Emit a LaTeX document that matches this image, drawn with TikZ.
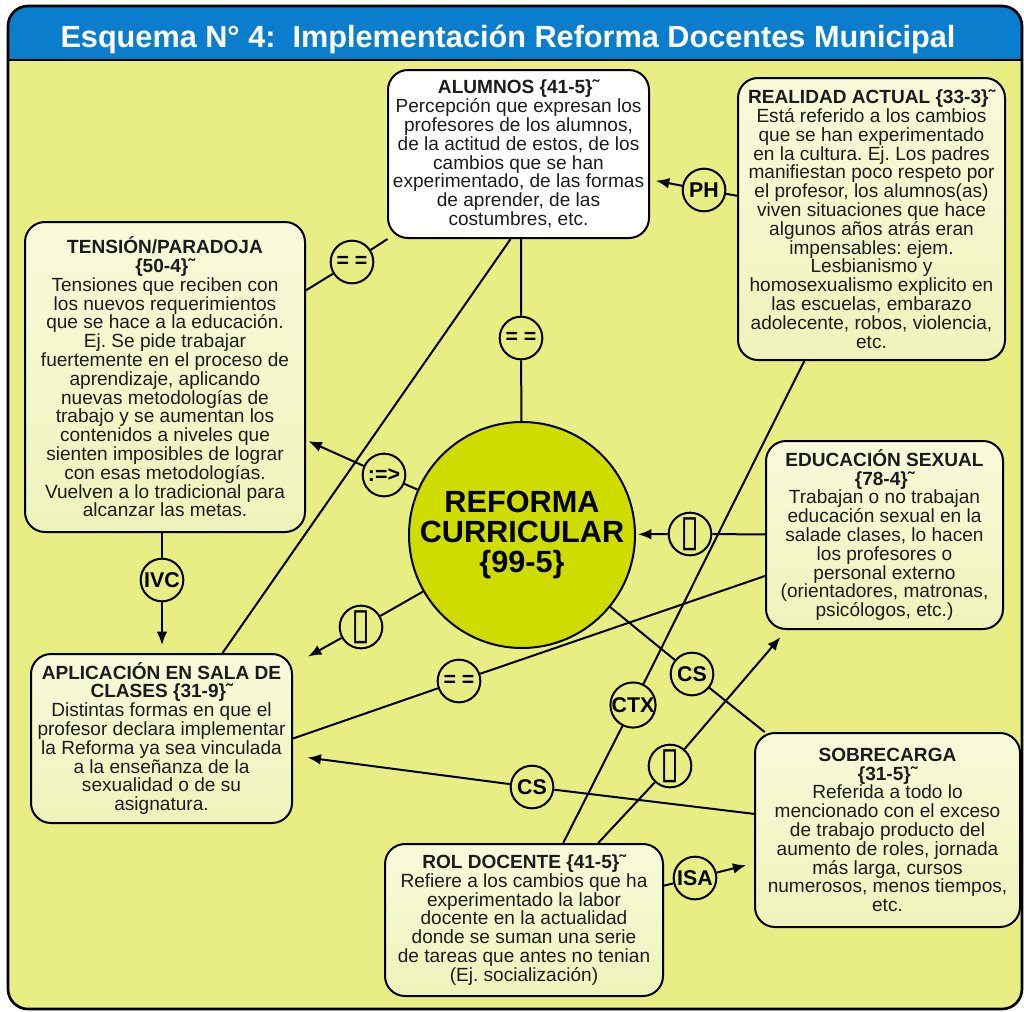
\documentclass[tikz,border=0pt]{standalone}
\usepackage{fontspec}
\setmainfont{Liberation Sans}
\newfontfamily\dejavu{DejaVu Sans}
\usetikzlibrary{arrows.meta,calc,backgrounds}
\definecolor{bglime}{HTML}{E8EE84}
\definecolor{hdrblue}{HTML}{0A7DCD}
\definecolor{boxtop}{HTML}{F9FADB}
\definecolor{boxbot}{HTML}{EFF3BA}
\definecolor{bigfill}{HTML}{CFDC00}
\definecolor{txt}{HTML}{1C1C1C}
\newcommand{\rectglyph}{{\dejavu\mdseries\fontsize{26}{26}\selectfont\scalebox{1}[1.25]{▯}}}
\frenchspacing
\begin{document}
\begin{tikzpicture}[x=0.75pt,y=-0.75pt,
  box/.style={draw, line width=1.5pt, rounded corners=15pt, top color=boxtop, bottom color=boxbot,
    inner sep=0pt, align=center, text=txt, font=\fontsize{14.3}{14.1}\selectfont},
  lbl/.style={circle, draw, line width=1.5pt, fill=bglime, minimum size=32pt, inner sep=0pt,
    font=\bfseries\fontsize{16}{16}\selectfont},
  conn/.style={line width=1.5pt},
  arr/.style={conn, -{Latex[length=10pt,width=8pt]}}]
\useasboundingbox (0,0) rectangle (1024,1011);
\begin{scope}[on background layer]
  \fill[bglime, rounded corners=15pt] (8,6) rectangle (1022,1009);
  \begin{scope}
    \clip[rounded corners=15pt] (8,6) rectangle (1022,1009);
    \fill[hdrblue] (8,6) rectangle (1022,60);
  \end{scope}
  \draw[line width=1.5pt] (8,60) -- (1022,60);
  \draw[line width=2pt, rounded corners=15pt] (8,6) rectangle (1022,1009);
\end{scope}

\node[anchor=base, text=white, font=\bfseries\fontsize{23}{23}\selectfont] (title) at (508,47)
  {Esquema N° 4:\ \ Implementación Reforma Docentes Municipal};

% boxes
\node[box, fill=white, top color=white, bottom color=white, minimum width=195.75pt, minimum height=126pt] (alumnos) at (518.5,154)
  {{\bfseries ALUMNOS \{41-5\}˜}\\Percepción que expresan los\\profesores de los alumnos,\\de la actitud de estos, de los\\cambios que se han\\experimentado, de las formas\\de aprender, de las\\costumbres, etc.};
\node[box, minimum width=200.25pt, minimum height=211.5pt] (realidad) at (871.5,219)
  {{\bfseries REALIDAD ACTUAL \{33-3\}˜}\\Está referido a los cambios\\que se han experimentado\\en la cultura. Ej. Los padres\\manifiestan poco respeto por\\el profesor, los alumnos(as)\\viven situaciones que hace\\algunos años atrás eran\\impensables: ejem.\\Lesbianismo y\\homosexualismo explicito en\\las escuelas, embarazo\\adolecente, robos, violencia,\\etc.};
\node[box, minimum width=210pt, minimum height=232.5pt] (tension) at (165,377)
  {{\bfseries TENSIÓN/PARADOJA}\\{\bfseries \{50-4\}˜}\\Tensiones que reciben con\\los nuevos requerimientos\\que se hace a la educación.\\Ej. Se pide trabajar\\fuertemente en el proceso de\\aprendizaje, aplicando\\nuevas metodologías de\\trabajo y se aumentan los\\contenidos a niveles que\\sienten imposibles de lograr\\con esas metodologías.\\Vuelven a lo tradicional para\\alcanzar las metas.};
\node[box, minimum width=177.75pt, minimum height=141pt] (edusex) at (884.5,535)
  {{\bfseries EDUCACIÓN SEXUAL}\\{\bfseries \{78-4\}˜}\\Trabajan o no trabajan\\educación sexual en la\\salade clases, lo hacen\\los profesores o\\personal externo\\(orientadores, matronas,\\psicólogos, etc.)};
\node[box, minimum width=195.75pt, minimum height=126.75pt] (aplic) at (161.5,738.5)
  {{\bfseries APLICACIÓN EN SALA DE}\\{\bfseries CLASES \{31-9\}˜}\\Distintas formas en que el\\profesor declara implementar\\la Reforma ya sea vinculada\\a la enseñanza de la\\sexualidad o de su\\asignatura.};
\node[box, minimum width=198.75pt, minimum height=145.5pt] (sobre) at (887.5,830)
  {{\bfseries SOBRECARGA}\\{\bfseries \{31-5\}˜}\\Referida a todo lo\\mencionado con el exceso\\de trabajo producto del\\aumento de roles, jornada\\más larga, cursos\\numerosos, menos tiempos,\\etc.};
\node[box, minimum width=208.5pt, minimum height=114pt] (rol) at (524,920)
  {{\bfseries ROL DOCENTE \{41-5\}˜}\\Refiere a los cambios que ha\\experimentado la labor\\docente en la actualidad\\donde se suman una serie\\de tareas que antes no tenian\\(Ej. socialización)};

\node[circle, draw, line width=1.5pt, fill=bigfill, minimum size=169.5pt, inner sep=0pt, align=center,
  font=\bfseries\fontsize{23}{22.5}\selectfont] (big) at (522,535) {REFORMA\\CURRICULAR\\\{99-5\}};

% connector labels
\node[lbl] (eq1) at (352,262) {= =};
\node[lbl] (eq2) at (521,338) {= =};
\node[lbl] (ph) at (704,190) {PH};
\node[lbl] (imp) at (384,475) {:=>};
\node[lbl] (b1) at (690,534) {\rectglyph};
\node[lbl] (b2) at (361,627) {\rectglyph};
\node[lbl] (ivc) at (162,580) {IVC};
\node[lbl] (eq3) at (459,681) {= =};
\node[lbl] (cs1) at (692,674) {CS};
\node[lbl] (ctx) at (633,705) {CTX};
\node[lbl] (b3) at (670,766) {\rectglyph};
\node[lbl] (cs2) at (532,787) {CS};
\node[lbl] (isa) at (695,878) {ISA};

\coordinate (realB) at ($(realidad.south west)!0.25!(realidad.south east)$);
\coordinate (rolT1) at ($(rol.north west)!0.64!(rol.north east)$);
\coordinate (rolT2) at ($(rol.north west)!0.765!(rol.north east)$);
\coordinate (eduB) at ($(edusex.south west)!0.09!(edusex.south east)$);
\coordinate (aplT) at ($(aplic.north west)!0.732!(aplic.north east)$);
\coordinate (aluB) at ($(alumnos.south west)!0.47!(alumnos.south east)$);

\begin{scope}[on background layer]
  \draw[conn] (tension) -- (eq1) -- (alumnos);
  \draw[conn] (alumnos.south -| eq2) -- (eq2) -- (big);
  \draw[arr, shorten >=4.5pt] (realidad) -- (ph) -- (alumnos);
  \draw[arr, shorten >=2pt] (big) -- (imp) -- (tension);
  \draw[arr, shorten >=1.5pt] (edusex) -- (b1) -- (big);
  \draw[arr, shorten >=13pt] (big) -- (b2) -- (aplic);
  \draw[arr, shorten >=6pt] (tension.south -| ivc) -- (ivc) -- (aplic.north -| ivc);
  \draw[conn] (edusex) -- (eq3) -- (aplic.east);
  \draw[conn] (big) -- (cs1) -- (sobre);
  \draw[conn] (realB) -- (ctx) -- (rolT1);
  \draw[arr, shorten >=7pt] (rolT2) -- (b3) -- (eduB);
  \draw[arr, shorten >=11pt] (sobre) -- (cs2) -- (aplic);
  \draw[arr, shorten >=6pt] (rol) -- (isa) -- (sobre);
  \draw[conn] (aplT) -- (aluB);
\end{scope}
\end{tikzpicture}
\end{document}
